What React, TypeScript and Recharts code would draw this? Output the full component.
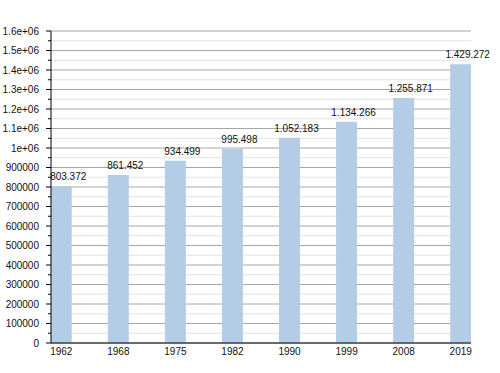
import React from 'react';
import { BarChart, Bar, XAxis, YAxis, CartesianGrid, LabelList } from 'recharts';

const years = ['1962', '1968', '1975', '1982', '1990', '1999', '2008', '2019'];
const population = [803372, 861452, 934499, 995498, 1052183, 1134266, 1255871, 1429272];
const valueLabels = ['803.372', '861.452', '934.499', '995.498', '1.052.183', '1.134.266', '1.255.871', '1.429.272'];

const yMajorTicks = [0, 100000, 200000, 300000, 400000, 500000, 600000, 700000, 800000, 900000, 1000000, 1100000, 1200000, 1300000, 1400000, 1500000, 1600000];
const yTickLabels = ['0', '100000', '200000', '300000', '400000', '500000', '600000', '700000', '800000', '900000', '1e+06', '1.1e+06', '1.2e+06', '1.3e+06', '1.4e+06', '1.5e+06', '1.6e+06'];
const yMinorTicks = [50000, 150000, 250000, 350000, 450000, 550000, 650000, 750000, 850000, 950000, 1050000, 1150000, 1250000, 1350000, 1450000, 1550000];

const data = years.map((y, i) => ({ idx: i, year: y, value: population[i], label: valueLabels[i] }));
const allYTicks = [...yMajorTicks, ...yMinorTicks].sort((a, b) => a - b);

const FONT = '"Liberation Sans", Arial, sans-serif';

const YTick = (props: any) => {
  const { x, y, payload } = props;
  const v = payload.value;
  const mi = yMajorTicks.indexOf(v);
  if (mi >= 0) {
    return (
      <g>
        <line x1={x - 5} x2={x} y1={y} y2={y} stroke="#000" strokeWidth={1} />
        <text x={x - 12} y={y} dy="0.35em" textAnchor="end" fontSize={10} fontFamily={FONT} fill="#111">
          {yTickLabels[mi]}
        </text>
      </g>
    );
  }
  return <line x1={x - 3} x2={x} y1={y} y2={y} stroke="#000" strokeWidth={1} />;
};

const ValueLabel = (props: any) => {
  const { x, y, width, value } = props;
  return (
    <text x={x + width / 2 + 7} y={y - 6} textAnchor="middle" fontSize={10} fontFamily={FONT} fill="#111">
      {value}
    </text>
  );
};

export default function App() {
  return (
    <div style={{ position: 'absolute', left: 0, top: 0, background: '#fff' }}>
      <BarChart width={500} height={373} data={data} margin={{ top: 31, right: 29, left: 0, bottom: 0 }}>
        <CartesianGrid horizontalValues={yMinorTicks} vertical={false} stroke="#e2e2e2" strokeWidth={1} />
        <CartesianGrid horizontalValues={yMajorTicks} vertical={false} stroke="#a6a6a6" strokeWidth={1} />
        <XAxis
          dataKey="idx"
          type="number"
          domain={[-0.18, 7.18]}
          ticks={[0, 1, 2, 3, 4, 5, 6, 7]}
          tickFormatter={(i: number) => years[i]}
          height={30}
          tickLine={false}
          tickSize={0}
          tickMargin={5}
          stroke="#000"
          tick={{ fontSize: 10, fontFamily: FONT, fill: '#111' }}
          allowDataOverflow
        />
        <YAxis
          type="number"
          domain={[0, 1600000]}
          ticks={allYTicks}
          interval={0}
          width={51}
          tickLine={false}
          tickSize={0}
          tickMargin={0}
          stroke="#000"
          tick={<YTick />}
          allowDataOverflow
        />
        <Bar dataKey="value" fill="#b3cde6" barSize={21} isAnimationActive={false}>
          <LabelList dataKey="label" content={<ValueLabel />} />
        </Bar>
      </BarChart>
    </div>
  );
}
